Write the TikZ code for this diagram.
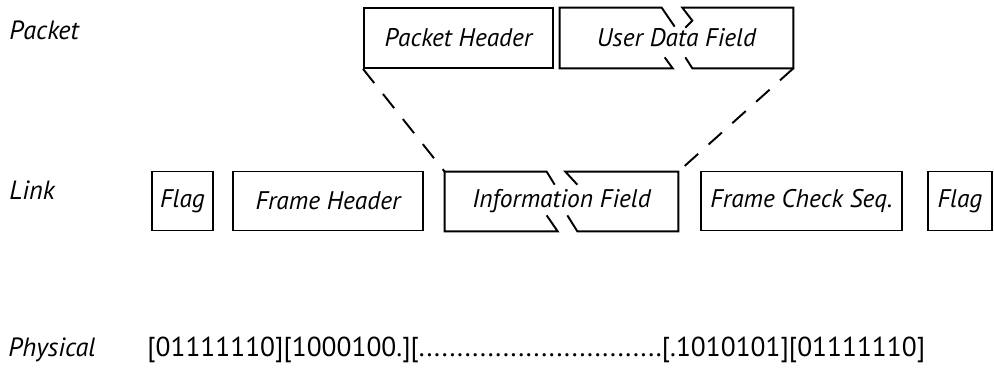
\documentclass[tikz,border=0pt]{standalone}
\usepackage{fontspec}
\setmainfont{PT Sans}
\usetikzlibrary{calc}

\newcommand{\labelfont}{\fontsize{14.5}{17}\selectfont\itshape}
\newcommand{\layerfont}{\fontsize{15}{17}\selectfont\itshape}
\newcommand{\bitsfont}{\fontsize{15.6}{18}\selectfont}

\tikzset{
    field/.style={draw,line width=1.1pt,inner sep=0pt,minimum height=1.18cm,font=\labelfont},
    splitfield/.style={inner sep=0pt,minimum height=1.18cm,font=\labelfont},
    edge/.style={line width=1.1pt},
    fan/.style={line width=1.1pt,dash pattern=on 0.36cm off 0.28cm},
    layer/.style={anchor=base west,inner sep=0pt,font=\layerfont}
}

\begin{document}
\begin{tikzpicture}[x=0.02cm,y=-0.02cm]
            \useasboundingbox (0,0) rectangle (994,373);

            \node[layer] (pkt) at (9,39) {Packet};
            \node[layer] (lnk) at (9,199) {Link};
            \node[layer] (phy) at (8,356) {Physical};

            \node[field,minimum width=3.78cm,minimum height=1.2cm] (ph) at (458.5,38) {Packet Header};
            \node[splitfield,minimum width=4.66cm,minimum height=1.2cm] (ud) at (676.5,38) {User Data Field};

            \node[field,minimum width=1.22cm] (flagA) at (182.5,201) {Flag};
            \node[field,minimum width=3.8cm] (fh) at (328,201) {Frame Header};
            \node[splitfield,minimum width=4.66cm] (inf) at (561.5,201.5) {Information Field};
            \node[field,minimum width=4.02cm] (fcs) at (801.5,201) {Frame Check Seq.};
            \node[field,minimum width=1.28cm] (flagB) at (960,201) {Flag};

            \node[anchor=base west,inner sep=0pt,font=\bitsfont] (bits) at (147,356)
                {[01111110][1000100.][................................[.1010101][01111110]};

            % broken outline of the user data field
            \draw[edge] ($(ud.south west)+(105,-11)$) -- ($(ud.south west)+(113,0)$) -- (ud.south west)
                -- (ud.north west) -- ($(ud.north west)+(102,0)$) -- ($(ud.north west)+(115,19)$);
            \draw[edge] ($(ud.north east)+(-108,20)$) -- ($(ud.north east)+(-101,13)$) -- ($(ud.north east)+(-111,0)$)
                -- (ud.north east) -- (ud.south east) -- ($(ud.south east)+(-101,0)$) -- ($(ud.south east)+(-108,-11)$);

            % broken outline of the information field
            \draw[edge] ($(inf.south west)+(102,-16)$) -- ($(inf.south west)+(113,0)$) -- (inf.south west)
                -- (inf.north west) -- ($(inf.north west)+(102,0)$) -- ($(inf.north west)+(110,13)$);
            \draw[edge] ($(inf.north east)+(-101,13)$) -- ($(inf.north east)+(-113,0)$) -- (inf.north east)
                -- (inf.south east) -- ($(inf.south east)+(-101,0)$) -- ($(inf.south east)+(-111,-16)$);

            \draw[fan] (ph.south west) -- (inf.north west);
            \draw[fan] (ud.south east) -- (inf.north east);
\end{tikzpicture}
\end{document}
